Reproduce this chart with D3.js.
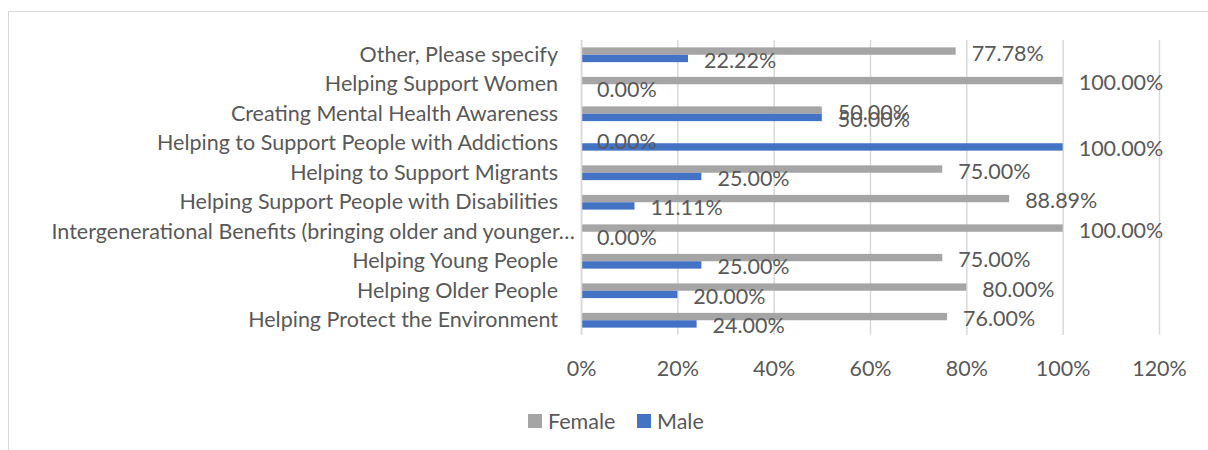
<!DOCTYPE html>
<html>
<head>
<meta charset="utf-8">
<script src="https://cdn.jsdelivr.net/npm/d3@7"></script>
<style>
    body { margin: 0; background: #fff; }
    svg text { font-family: Lato, 'Liberation Sans', sans-serif; fill: #595959; }
</style>
</head>
<body>
<svg id="chart"></svg>
<script>
// categories listed top to bottom, as they appear in the chart
const categories = [
    'Other, Please specify',
    'Helping Support Women',
    'Creating Mental Health Awareness',
    'Helping to Support People with Addictions',
    'Helping to Support Migrants',
    'Helping Support People with Disabilities',
    'Intergenerational Benefits (bringing older and younger\u2026',
    'Helping Young People',
    'Helping Older People',
    'Helping Protect the Environment',
]
const femaleValues = [0.7778, 1, 0.5, 0, 0.75, 0.8889, 1, 0.75, 0.8, 0.76]
const maleValues = [0.2222, 0, 0.5, 1, 0.25, 0.1111, 0, 0.25, 0.2, 0.24]
const seriesNames = ['Female', 'Male']
const seriesColors = ['#A5A5A5', '#4472C4']
const xTicks = [0, 0.2, 0.4, 0.6, 0.8, 1, 1.2]

class BarChart {
    constructor(_svgId) {
        this.svg = d3.select('#' + _svgId)
        this.width = 1208
        this.height = 450
        this.fontSize = 21.5
        this.svg.attr('width', this.width).attr('height', this.height)

        this.margin = { left: 581, right: 49, top: 40, bottom: 115 }
        this.structureData()
        this.draw()
    }
    structureData() {
        this.rows = categories.map((c, i) => ({
            category: c,
            values: [
                { series: 'Female', value: femaleValues[i] },
                { series: 'Male', value: maleValues[i] },
            ],
        }))
    }
    draw() {
        let self = this
        let svg = self.svg
        let m = self.margin

        // chart area border (runs off the right / bottom of the picture)
        svg.append('rect')
            .attr('x', 8.5)
            .attr('y', 11.5)
            .attr('width', self.width)
            .attr('height', self.height)
            .attr('fill', 'none')
            .attr('stroke', '#d9d9d9')

        let x = d3.scaleLinear()
            .domain([0, 1.2])
            .range([m.left, self.width - m.right])
        let y = d3.scaleBand()
            .domain(categories)
            .range([m.top, self.height - m.bottom])
            .paddingInner(0.5)
            .paddingOuter(0.25)
        let ySub = d3.scaleBand()
            .domain(seriesNames)
            .range([0, y.bandwidth()])
        let color = d3.scaleOrdinal().domain(seriesNames).range(seriesColors)

        // gridlines
        svg.append('g')
            .attr('class', 'grid')
            .selectAll('line')
            .data(xTicks)
            .join('line')
            .attr('x1', d => x(d) + 0.5)
            .attr('x2', d => x(d) + 0.5)
            .attr('y1', m.top)
            .attr('y2', self.height - m.bottom)
            .attr('stroke', '#d9d9d9')
            .attr('stroke-width', 1.5)

        // x tick labels
        let xAxis = svg.append('g')
            .attr('transform', `translate(0,${self.height - m.bottom})`)
            .call(d3.axisBottom(x).tickValues(xTicks).tickFormat(d3.format('.0%')).tickSize(0).tickPadding(26))
        xAxis.select('.domain').remove()
        xAxis.selectAll('text').style('font-size', self.fontSize + 'px')

        // category labels
        let yAxis = svg.append('g')
            .attr('transform', `translate(${m.left},0)`)
            .call(d3.axisLeft(y).tickSize(0).tickPadding(23))
        yAxis.select('.domain').remove()
        yAxis.selectAll('text')
            .style('font-size', self.fontSize + 'px')
            .attr('dx', d => d.endsWith('\u2026') ? 17 : 0)

        // bars
        let groups = svg.append('g')
            .attr('class', 'bars')
            .selectAll('g')
            .data(self.rows)
            .join('g')
            .attr('transform', d => `translate(0,${y(d.category)})`)

        groups.selectAll('rect')
            .data(d => d.values)
            .join('rect')
            .attr('x', x(0))
            .attr('y', d => ySub(d.series))
            .attr('width', d => x(d.value) - x(0))
            .attr('height', ySub.bandwidth())
            .attr('fill', d => color(d.series))

        groups.selectAll('text.label')
            .data(d => d.values)
            .join('text')
            .attr('class', 'label')
            .attr('x', d => x(d.value) + 16)
            .attr('y', d => ySub(d.series) + ySub.bandwidth() / 2 + 2)
            .attr('dy', '0.35em')
            .style('font-size', self.fontSize + 'px')
            .text(d => d3.format('.2%')(d.value))

        // value axis line at 0
        svg.append('line')
            .attr('x1', x(0) + 0.5)
            .attr('x2', x(0) + 0.5)
            .attr('y1', m.top)
            .attr('y2', self.height - m.bottom)
            .attr('stroke', '#d9d9d9')
            .attr('stroke-width', 1.5)

        // legend
        let legend = svg.append('g')
            .attr('class', 'legend')
            .attr('transform', 'translate(528,414)')
        let item = legend.selectAll('g')
            .data(seriesNames)
            .join('g')
            .attr('transform', (d, i) => `translate(${i * 109},0)`)
        item.append('rect')
            .attr('width', 14)
            .attr('height', 14)
            .attr('fill', d => color(d))
        item.append('text')
            .attr('x', 20)
            .attr('y', 7)
            .attr('dy', '0.35em')
            .style('font-size', self.fontSize + 'px')
            .text(d => d)
    }
}

new BarChart('chart')
</script>
</body>
</html>
